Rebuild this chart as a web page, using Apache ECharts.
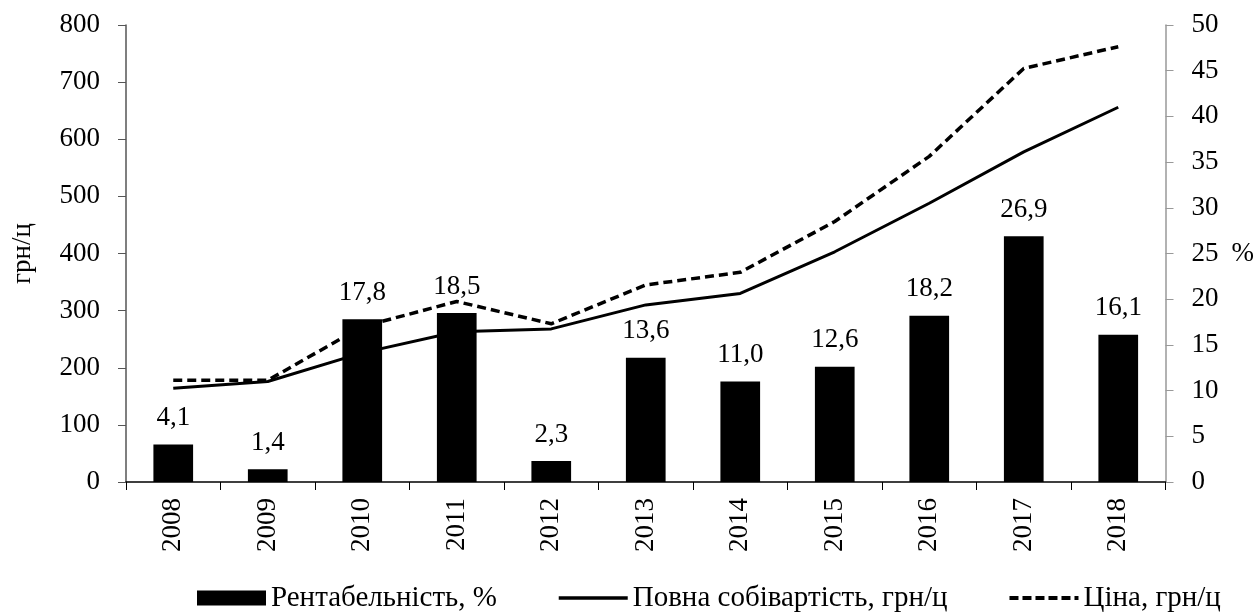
<!DOCTYPE html>
<html>
<head>
<meta charset="utf-8">
<script src="https://cdn.jsdelivr.net/npm/echarts@6/dist/echarts.min.js"></script>
<style>
  html, body { margin: 0; padding: 0; background: #fff; }
  #chart { width: 1257px; height: 614px; }
</style>
</head>
<body>
<div id="chart"></div>
<script>
const years = ["2008", "2009", "2010", "2011", "2012", "2013", "2014", "2015", "2016", "2017", "2018"];
const profitability = [4.1, 1.4, 17.8, 18.5, 2.3, 13.6, 11.0, 12.6, 18.2, 26.9, 16.1];
const fullCost = [164, 176, 226, 263, 268, 310, 330, 403, 488, 578, 656];
const price = [178, 178, 272, 316, 277, 345, 367, 456, 570, 724, 762];

const font = "'Liberation Serif', 'Times New Roman', serif";

const chart = echarts.init(document.getElementById("chart"));

const option = {
  animation: false,
  textStyle: { fontFamily: font, color: "#000" },
  grid: { left: 126, right: 91, top: 25, bottom: 132 },
  legend: {
    top: 578,
    left: 192,
    itemWidth: 69,
    itemHeight: 15,
    itemGap: 60,
    textStyle: { fontFamily: font, fontSize: 29, color: "#000", lineHeight: 30 },
    data: [
      { name: "Рентабельність, %", icon: "rect" },
      { name: "Повна собівартість, грн/ц", lineStyle: { width: 3.5 } },
      { name: "Ціна, грн/ц", lineStyle: { width: 4, type: [9, 4] } },
    ],
  },
  xAxis: {
    type: "category",
    data: years,
    axisLine: { lineStyle: { color: "#000", width: 1.5 } },
    axisTick: { show: true, length: 8, lineStyle: { color: "#000" } },
    axisLabel: { rotate: 90, fontSize: 27, color: "#000", margin: 16, fontFamily: font },
  },
  yAxis: [
    {
      type: "value",
      min: 0,
      max: 800,
      interval: 100,
      name: "грн/ц",
      nameLocation: "middle",
      nameGap: 90,
      nameTextStyle: { fontSize: 27, color: "#000", fontFamily: font },
      axisLine: { show: true, lineStyle: { color: "#555", width: 1.5 } },
      axisTick: { show: true, length: 8, lineStyle: { color: "#555" } },
      axisLabel: { fontSize: 27, color: "#000", margin: 26, fontFamily: font },
      splitLine: { show: false },
    },
    {
      type: "value",
      min: 0,
      max: 50,
      interval: 5,
      name: "%",
      nameLocation: "middle",
      nameRotate: 0,
      nameGap: 66,
      nameTextStyle: { fontSize: 27, color: "#000", fontFamily: font },
      axisLine: { show: true, lineStyle: { color: "#999", width: 1.5 } },
      axisTick: { show: true, length: 8, lineStyle: { color: "#999" } },
      axisLabel: { fontSize: 27, color: "#000", margin: 26, fontFamily: font },
      splitLine: { show: false },
    },
  ],
  series: [
    {
      name: "Рентабельність, %",
      type: "bar",
      yAxisIndex: 1,
      data: profitability,
      barWidth: "42%",
      itemStyle: { color: "#000" },
      label: {
        show: true,
        position: "top",
        distance: 13,
        fontSize: 27,
        color: "#000",
        fontFamily: font,
        formatter: (p) => p.value.toFixed(1).replace(".", ","),
      },
    },
    {
      name: "Повна собівартість, грн/ц",
      type: "line",
      yAxisIndex: 0,
      data: fullCost,
      symbol: "none",
      lineStyle: { color: "#000", width: 3 },
      itemStyle: { color: "rgba(0,0,0,0)" },
    },
    {
      name: "Ціна, грн/ц",
      type: "line",
      yAxisIndex: 0,
      data: price,
      symbol: "none",
      lineStyle: { color: "#000", width: 3.5, type: [9, 5] },
      itemStyle: { color: "rgba(0,0,0,0)" },
    },
  ],
};

chart.setOption(option);
</script>
</body>
</html>
